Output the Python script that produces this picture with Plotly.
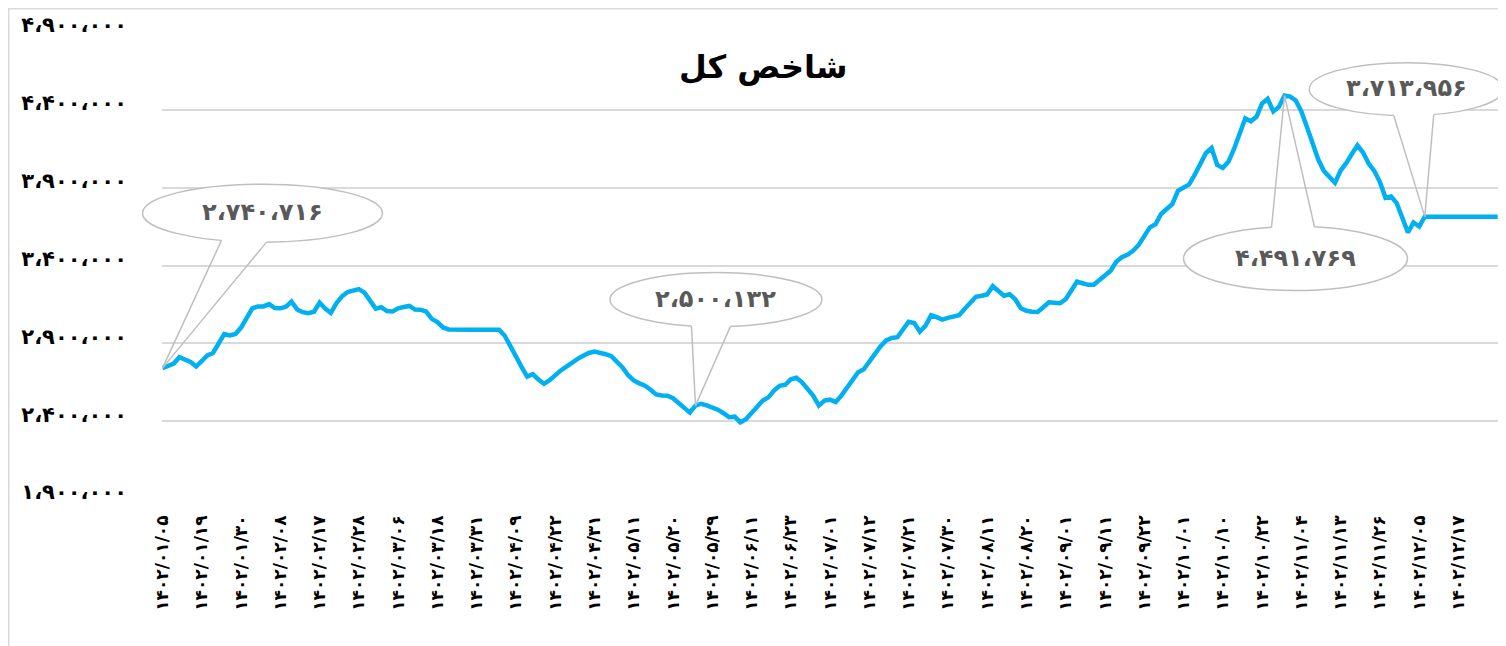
import math
import plotly.graph_objects as go

# ---------------- data ----------------
title_text = "شاخص کل"

x_labels = [
    "۱۴۰۲/۰۱/۰۵", "۱۴۰۲/۰۱/۱۹", "۱۴۰۲/۰۱/۳۰", "۱۴۰۲/۰۲/۰۸", "۱۴۰۲/۰۲/۱۷",
    "۱۴۰۲/۰۲/۲۸", "۱۴۰۲/۰۳/۰۶", "۱۴۰۲/۰۳/۱۸", "۱۴۰۲/۰۳/۳۱", "۱۴۰۲/۰۴/۰۹",
    "۱۴۰۲/۰۴/۲۲", "۱۴۰۲/۰۴/۳۱", "۱۴۰۲/۰۵/۱۱", "۱۴۰۲/۰۵/۲۰", "۱۴۰۲/۰۵/۲۹",
    "۱۴۰۲/۰۶/۱۱", "۱۴۰۲/۰۶/۲۳", "۱۴۰۲/۰۷/۰۱", "۱۴۰۲/۰۷/۱۲", "۱۴۰۲/۰۷/۲۱",
    "۱۴۰۲/۰۷/۳۰", "۱۴۰۲/۰۸/۱۱", "۱۴۰۲/۰۸/۲۰", "۱۴۰۲/۰۹/۰۱", "۱۴۰۲/۰۹/۱۱",
    "۱۴۰۲/۰۹/۲۲", "۱۴۰۲/۱۰/۰۱", "۱۴۰۲/۱۰/۱۰", "۱۴۰۲/۱۰/۲۲", "۱۴۰۲/۱۱/۰۴",
    "۱۴۰۲/۱۱/۱۳", "۱۴۰۲/۱۱/۲۶", "۱۴۰۲/۱۲/۰۵", "۱۴۰۲/۱۲/۱۷", "۱۴۰۲/۱۲/۲۷",
]
label_step = 7  # one date label every 7 trading days

index_values = [
    2740716, 2754000, 2770000, 2811000, 2798000, 2780000, 2751000, 2786000, 2822000, 2838000,
    2894000, 2960000, 2951000, 2960000, 3001000, 3058000, 3124000, 3137000, 3137000, 3152000,
    3127000, 3125000, 3135000, 3168000, 3118000, 3100000, 3093000, 3103000, 3161000, 3123000,
    3096000, 3158000, 3202000, 3230000, 3242000, 3248000, 3226000, 3175000, 3123000, 3132000,
    3107000, 3105000, 3125000, 3133000, 3140000, 3117000, 3116000, 3104000, 3057000, 3036000,
    3002000, 2989000, 2987000, 2987000, 2987000, 2987000, 2987000, 2987000, 2987000, 2987000,
    2987000, 2949000, 2877000, 2811000, 2749000, 2686000, 2702000, 2668000, 2640000, 2663000,
    2697000, 2726000, 2751000, 2777000, 2800000, 2820000, 2838000, 2847000, 2842000, 2830000,
    2817000, 2783000, 2745000, 2695000, 2662000, 2643000, 2628000, 2602000, 2572000, 2565000,
    2564000, 2547000, 2519000, 2488000, 2455000, 2500132, 2512000, 2502000, 2487000, 2474000,
    2451000, 2425000, 2429000, 2392000, 2413000, 2453000, 2498000, 2532000, 2553000, 2597000,
    2627000, 2634000, 2669000, 2679000, 2650000, 2607000, 2563000, 2500000, 2532000, 2538000,
    2523000, 2564000, 2614000, 2668000, 2714000, 2733000, 2782000, 2834000, 2881000, 2919000,
    2934000, 2939000, 2984000, 3039000, 3031000, 2975000, 3013000, 3080000, 3068000, 3052000,
    3064000, 3071000, 3080000, 3122000, 3161000, 3199000, 3206000, 3214000, 3267000, 3238000,
    3206000, 3215000, 3183000, 3125000, 3109000, 3103000, 3101000, 3132000, 3164000, 3161000,
    3158000, 3183000, 3234000, 3296000, 3286000, 3276000, 3276000, 3308000, 3337000, 3366000,
    3424000, 3453000, 3469000, 3494000, 3532000, 3594000, 3645000, 3665000, 3731000, 3763000,
    3794000, 3880000, 3903000, 3921000, 3983000, 4054000, 4123000, 4155000, 4046000, 4027000,
    4066000, 4149000, 4247000, 4345000, 4326000, 4355000, 4441000, 4471000, 4390000, 4419000,
    4491769, 4485000, 4460000, 4390000, 4290000, 4181000, 4082000, 4008000, 3969000, 3931000,
    4010000, 4057000, 4116000, 4172000, 4126000, 4055000, 4008000, 3937000, 3835000, 3843000,
    3801000, 3706000, 3612000, 3676000, 3650000, 3713956, 3713956, 3713956, 3713956, 3713956,
    3713956, 3713956, 3713956, 3713956, 3713956, 3713956, 3713956, 3713956, 3713956,
]

y_ticks = [1900000, 2400000, 2900000, 3400000, 3900000, 4400000, 4900000]

# indices of the points that carry a callout label
callout_points = [0, 95, 200, 225]

# ---------------- helpers ----------------
FA = str.maketrans("0123456789,", "۰۱۲۳۴۵۶۷۸۹،")


def to_fa(n):
    return format(int(round(n)), ",").translate(FA)


OFF = 8                       # page body margin
W, H = 1506 - OFF, 646 - OFF  # figure size
ML, MT = 162 - OFF, 32 - OFF
MB = H - (499 - OFF)
MR = 6
PW, PH = W - ML - MR, H - MT - MB


def fxx(fx):  # figure x (px) -> paper x
    return (fx - ML) / PW


def fxy(fy):  # figure y (px from top) -> paper y
    return (H - MB - fy) / PH


def pxx(px):  # screen x -> paper x
    return fxx(px - OFF)


def pxy(py):  # screen y -> paper y
    return fxy(py - OFF)


n = len(index_values)
x = list(range(n))
x_range = [-0.09, n - 1 + 0.41]
y_range = [y_ticks[0], y_ticks[-1]]


def data_to_paper(xv, yv):
    return ((xv - x_range[0]) / (x_range[1] - x_range[0]),
            (yv - y_range[0]) / (y_range[1] - y_range[0]))


fig = go.Figure()
fig.add_trace(go.Scatter(
    x=x, y=index_values, mode="lines",
    line=dict(color="#00B0F0", width=4.5),
    hoverinfo="skip", showlegend=False,
))

FONT = "DejaVu Sans"
fig.update_layout(
    width=W, height=H,
    margin=dict(l=ML, r=MR, t=MT, b=MB, pad=0),
    paper_bgcolor="white", plot_bgcolor="white",
    font=dict(family=FONT, color="black"),
    showlegend=False,
    xaxis=dict(
        range=x_range,
        tickmode="array",
        tickvals=[i * label_step for i in range(len(x_labels))],
        ticktext=["<b>" + t + "</b>" for t in x_labels],
        tickangle=-90,
        tickfont=dict(size=17, color="black", family=FONT),
        showgrid=False, zeroline=False, showline=False,
        ticks="", ticklabelstandoff=12,
    ),
    yaxis=dict(
        range=y_range,
        tickmode="array",
        tickvals=y_ticks,
        ticktext=["<b>" + to_fa(v) + "</b>" for v in y_ticks],
        tickfont=dict(size=21, color="black", family=FONT),
        showgrid=True, gridcolor="#d9d9d9", gridwidth=1.5,
        zeroline=False, showline=False, ticks="",
        ticklabelstandoff=34, ticklabelshift=-7,
    ),
)

shapes = []
annotations = []

# outer chart frame: only its left and top edges fall inside the picture
FRAME = dict(color="#d9d9d9", width=1.5)
shapes.append(dict(type="line", xref="paper", yref="paper",
                   x0=fxx(0.75), x1=fxx(0.75), y0=fxy(H), y1=fxy(0),
                   line=FRAME, layer="below"))
shapes.append(dict(type="line", xref="paper", yref="paper",
                   x0=fxx(0), x1=fxx(W), y0=fxy(0.75), y1=fxy(0.75),
                   line=FRAME, layer="below"))

# callout geometry in pixels relative to its data point (+y = up):
# ellipse centre offset, radii, wedge base x offsets, wedge side
callout_geom = [
    dict(cx=100, cy=155, rx=120, ry=29, bx=(59, 104), side="bottom"),
    dict(cx=20.5, cy=106, rx=106, ry=27, bx=(-4, 35), side="bottom"),
    dict(cx=11, cy=-163, rx=112, ry=32, bx=(-13, 30), side="top"),
    dict(cx=-18.5, cy=127.5, rx=97, ry=26.5, bx=(-31, 9), side="bottom"),
]

GREY = "#bfbfbf"
for idx, g in zip(callout_points, callout_geom):
    yv = index_values[idx]
    ax, ay = data_to_paper(idx, yv)
    common = dict(xref="paper", yref="paper", xsizemode="pixel", ysizemode="pixel",
                  xanchor=ax, yanchor=ay, layer="above")
    shapes.append(dict(type="circle", x0=g["cx"] - g["rx"], x1=g["cx"] + g["rx"],
                       y0=g["cy"] - g["ry"], y1=g["cy"] + g["ry"],
                       line=dict(color=GREY, width=1.5), fillcolor="white", **common))
    sgn = -1 if g["side"] == "bottom" else 1

    def edge_y(bx, g=g, sgn=sgn):
        t = max(0.0, 1 - ((bx - g["cx"]) / g["rx"]) ** 2)
        return g["cy"] + sgn * g["ry"] * math.sqrt(t)

    # erase ellipse border across the wedge opening
    pts = []
    steps = 12
    for k in range(steps + 1):
        bx = g["bx"][0] + (g["bx"][1] - g["bx"][0]) * k / steps
        pts.append((bx, edge_y(bx)))
    path = "M " + " L ".join(f"{px:.2f},{py:.2f}" for px, py in pts)
    shapes.append(dict(type="path", path=path, line=dict(color="white", width=3.5), **common))
    # wedge sides
    for bx in g["bx"]:
        shapes.append(dict(type="line", x0=0, y0=0, x1=bx, y1=edge_y(bx),
                           line=dict(color=GREY, width=1.5), **common))
    annotations.append(dict(
        xref="paper", yref="paper", x=ax, y=ay, xshift=g["cx"], yshift=g["cy"] + 1,
        text="<b>" + to_fa(yv) + "</b>", showarrow=False,
        font=dict(size=24, color="#595959", family=FONT),
        xanchor="center", yanchor="middle",
    ))

# chart title
annotations.append(dict(
    xref="paper", yref="paper", x=pxx(763), y=pxy(67),
    text="<b>" + title_text + "</b>", showarrow=False,
    font=dict(size=32, color="black", family=FONT),
    xanchor="center", yanchor="middle",
))

fig.update_layout(shapes=shapes, annotations=annotations)
fig.write_html("out.html")
